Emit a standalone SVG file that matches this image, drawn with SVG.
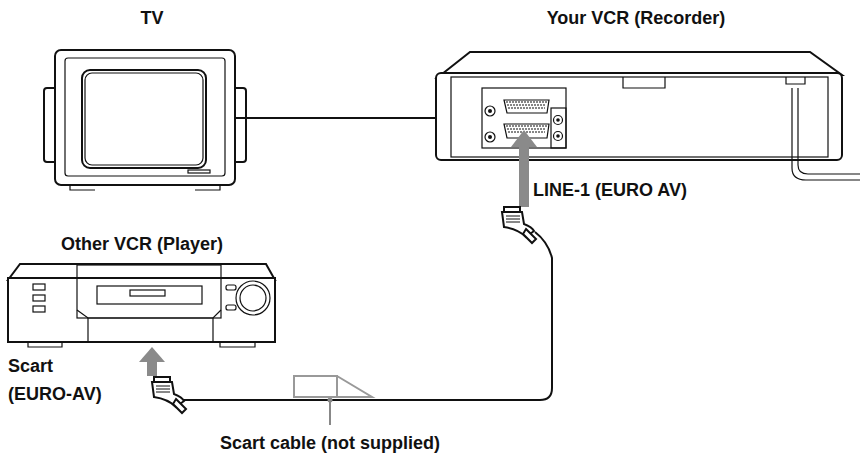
<svg xmlns="http://www.w3.org/2000/svg" width="860" height="465" viewBox="0 0 860 465">
<style>
.l{fill:none;stroke:#111;stroke-width:2;stroke-linejoin:round}
.t{fill:none;stroke:#111;stroke-width:1.2}
.w{fill:#fff;stroke:#111;stroke-width:2}
.tx{font-family:"Liberation Sans",Arial,sans-serif;font-weight:bold;font-size:18px;fill:#111}
.ga{fill:#8a8a8a}
</style>
<rect width="860" height="465" fill="#fff"/>
<g id="tv">
<rect x="44" y="88" width="16" height="74" rx="3" class="w"/>
<rect x="230" y="88" width="16" height="74" rx="3" class="w"/>
<rect x="55" y="50" width="180" height="135" rx="6" class="w"/>
<rect x="65" y="58" width="160" height="118" rx="3" class="t"/>
<rect x="82" y="70" width="124" height="98" rx="8" class="l"/>
<rect x="85" y="73" width="118" height="92" rx="7" class="t"/>
<rect x="188" y="170" width="22" height="3" class="t"/>
<path d="M70 185 L70 190 L95 190 M195 190 L220 190 L220 185" class="t"/>
<text x="152" y="24" text-anchor="middle" class="tx">TV</text>
</g>
<g id="recorder">
<path d="M437 78 L470 52 L810 52 L842 75 Z" class="w"/>
<rect x="436" y="73" width="406" height="87" rx="5" class="w"/>
<rect x="451" y="77" width="377" height="80" class="t"/>
<path d="M623 77 L623 88 L665 88 L665 77" class="t"/>
<path d="M786 77 L786 84 L805 84 L805 77" class="t"/>
<rect x="482" y="88" width="84" height="60" class="t"/>
<path d="M504 100 L549 100 L547 113 L507 113 Z" class="t"/>
<path d="M506 102 L547 102 M507 105 L546 105 M508 108 L545 108" stroke="#111" stroke-width="1.2" stroke-dasharray="2 1"/>
<path d="M504 124 L549 124 L547 138 L507 138 Z" class="t"/>
<path d="M506 126 L547 126 M507 129 L546 129 M508 132 L545 132" stroke="#111" stroke-width="1.2" stroke-dasharray="2 1"/>
<circle cx="490" cy="111" r="5" class="t"/><circle cx="490" cy="111" r="2" fill="#111"/>
<circle cx="490" cy="137" r="5" class="t"/><circle cx="490" cy="137" r="2" fill="#111"/>
<rect x="551" y="108" width="15" height="40" class="t"/>
<circle cx="558" cy="120" r="4.5" class="t"/><circle cx="558" cy="120" r="1.8" fill="#111"/>
<circle cx="558" cy="136" r="4.5" class="t"/><circle cx="558" cy="136" r="1.8" fill="#111"/>
<text x="636" y="24" text-anchor="middle" class="tx">Your VCR (Recorder)</text>
<text x="533" y="196" class="tx">LINE-1 (EURO AV)</text>
</g>
<g id="player">
<path d="M20 264 L266 264 L275 280 L8 280 Z" class="w"/>
<rect x="8" y="278" width="267" height="64" class="w"/>
<rect x="77" y="265" width="144" height="53" class="t"/>
<rect x="97" y="286" width="105" height="18" class="t"/>
<rect x="130" y="290" width="35" height="6" class="t"/>
<path d="M77 310 L88 318 L213 318 L221 310" class="t"/>
<path d="M88 318 L88 342 M213 318 L213 342" class="t"/>
<rect x="33" y="284" width="12" height="6" class="t"/>
<rect x="33" y="295" width="12" height="6" class="t"/>
<rect x="33" y="306" width="12" height="6" class="t"/>
<rect x="226" y="285" width="10" height="5" rx="2" class="t"/>
<rect x="226" y="305" width="10" height="5" rx="2" class="t"/>
<circle cx="253" cy="298" r="17" class="t"/>
<circle cx="253" cy="298" r="13" class="t"/>
<path d="M28 342 L28 347 L62 347 L62 342 M220 342 L220 347 L255 347 L255 342" class="t"/>
<text x="142" y="250" text-anchor="middle" class="tx">Other VCR (Player)</text>
<text x="8" y="372" class="tx">Scart</text>
<text x="8" y="400" class="tx">(EURO-AV)</text>
</g>
<g id="connectors">
<line x1="235" y1="118" x2="437" y2="118" class="l" stroke-width="2.5"/>
<path d="M535 232 Q548 242 552 258 L552 388 Q552 400 540 400 L180 400" class="l" stroke-width="2.5"/>
<path d="M798 88 L798 165 Q798 174 808 174 L860 174 M792 88 L792 168 Q792 180 806 180 L860 180" class="t" stroke-width="1.5"/>
<line x1="330" y1="400" x2="330" y2="425" stroke="#888" stroke-width="2"/>
<circle cx="330" cy="400" r="2.5" fill="#888"/>
<path d="M294 376 L337 376 L337 397 L294 397 Z M337 376 L372 397 L337 397" fill="#fff" stroke="#999" stroke-width="2"/>
<rect x="519" y="142" width="10" height="65" class="ga"/>
<path d="M511 147 L524 130 L537 147 Z" class="ga"/>
<rect x="147" y="360" width="10" height="16" class="ga"/>
<path d="M139 362 L152 347 L165 362 Z" class="ga"/>
</g>
<g id="plug-right" transform="translate(504,207)">
<rect x="0" y="0" width="16" height="5" class="w" stroke-width="1.5"/>
<path d="M-2 5 L18 5 L20 17 Q28 20 30 24 L22 30 Q14 22 0 20 Z" class="w" stroke-width="1.5"/>
<path d="M2 9 L16 9 M2 12 L16 12 M2 15 L16 15" stroke="#111" stroke-width="1"/>
<path d="M22 22 L32 32 L28 36 L19 27 Z" class="w" stroke-width="1.5"/>
</g>
<g id="plug-left" transform="translate(154,377)">
<rect x="0" y="0" width="16" height="5" class="w" stroke-width="1.5"/>
<path d="M-2 5 L18 5 L20 17 Q28 20 30 24 L22 30 Q14 22 0 20 Z" class="w" stroke-width="1.5"/>
<path d="M2 9 L16 9 M2 12 L16 12 M2 15 L16 15" stroke="#111" stroke-width="1"/>
<path d="M22 22 L32 32 L28 36 L19 27 Z" class="w" stroke-width="1.5"/>
</g>
<text x="330" y="449" text-anchor="middle" class="tx">Scart cable (not supplied)</text>
</svg>
